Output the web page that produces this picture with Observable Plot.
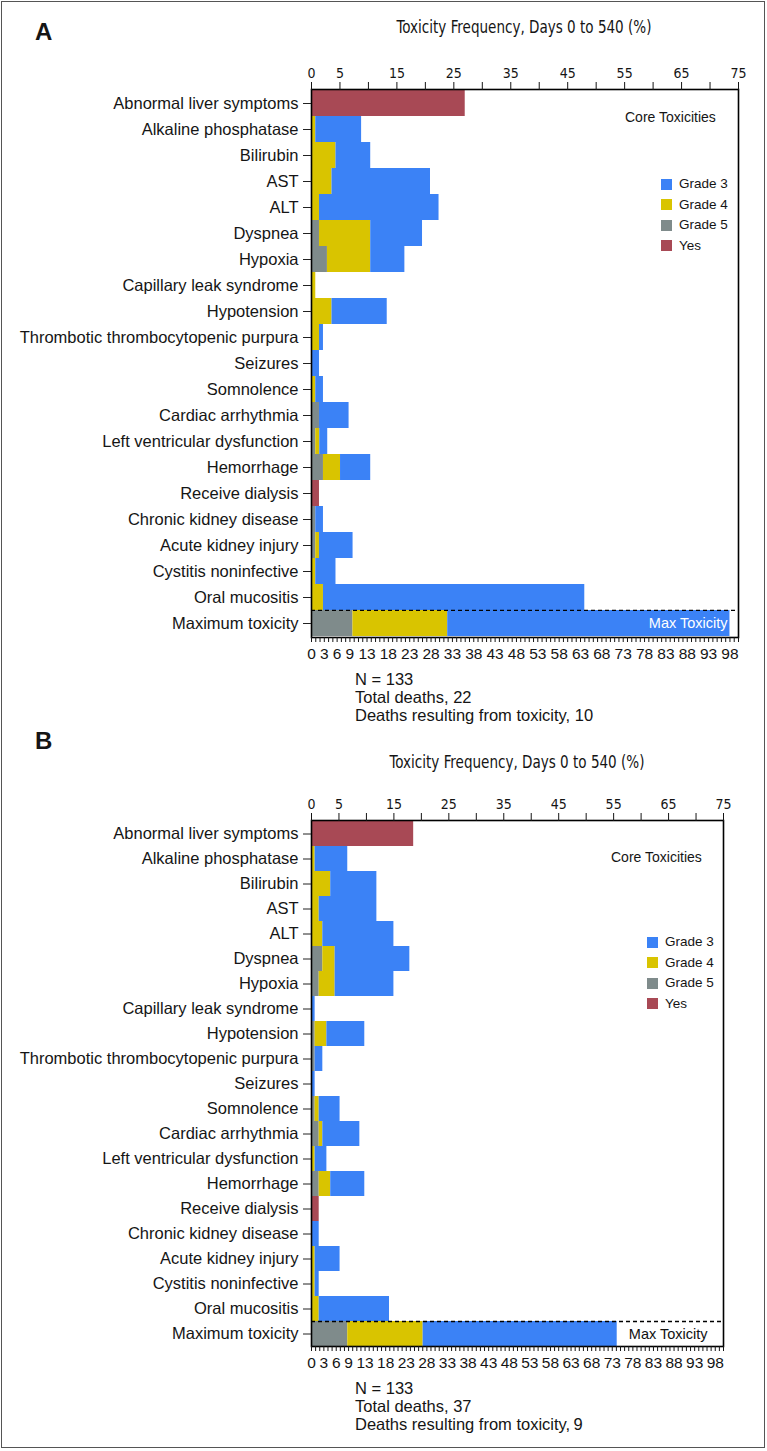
<!DOCTYPE html>
<html><head><meta charset="utf-8">
<script src="https://cdn.jsdelivr.net/npm/d3@7"></script>
<script src="https://cdn.jsdelivr.net/npm/@observablehq/plot@0.6"></script>
<style>
body{margin:0;background:#fff;}
#page{position:relative;width:767px;height:1451px;overflow:hidden;font-family:"Liberation Sans",Arial,sans-serif;color:#151515;background:#fff;}
.abs{position:absolute;white-space:nowrap;line-height:1;}
.svgwrap{position:absolute;left:0;}
#border{position:absolute;left:1px;top:1px;width:762px;height:1445px;border:1.5px solid #555;}
</style></head><body><div id="page"><div id="border"></div></div>
<script>
const categories = ["Abnormal liver symptoms","Alkaline phosphatase","Bilirubin","AST","ALT","Dyspnea","Hypoxia","Capillary leak syndrome","Hypotension","Thrombotic thrombocytopenic purpura","Seizures","Somnolence","Cardiac arrhythmia","Left ventricular dysfunction","Hemorrhage","Receive dialysis","Chronic kidney disease","Acute kidney injury","Cystitis noninfective","Oral mucositis","Maximum toxicity"];
const legendKeys = ["Grade 3","Grade 4","Grade 5","Yes"];
const legendColors = ["#3b82f6","#d9c400","#7f8b8b","#a84955"];
const topTicks = [0,5,10,15,20,25,30,35,40,45,50,55,60,65,70,75];
const topTickLabels = [0,5,15,25,35,45,55,65,75];
const bottomTickLabels = [0,3,6,9,13,18,23,28,33,38,43,48,53,58,63,68,73,78,83,88,93,98];
const topMax = 75, bottomMax = 100; // core rows use top axis, "Maximum toxicity" uses bottom axis
const title = "Toxicity Frequency, Days 0 to 540 (%)";

// Panel A (segment lengths, %; last entry on 0-100 bottom axis)
const grade5A = [0,0,0,0,0,1.4,2.8,0,0,0,0,0,1.4,0.75,2.1,0,0.75,0.75,0,0,9.7];
const grade4A = [0,0.75,4.3,3.6,1.4,9.0,7.6,0.75,3.6,1.4,0,0.75,0,0.7,3.0,0,0,0.65,0.75,2.1,22.2];
const grade3A = [0,8.05,6.1,17.3,21.0,9.1,6.0,0,9.7,0.7,1.4,1.35,5.2,1.4,5.3,0,1.35,5.9,3.55,45.9,66.1];
const yesA    = [27.0,0,0,0,0,0,0,0,0,0,0,0,0,0,0,1.4,0,0,0,0,0];
const notesA = ["N = 133","Total deaths, 22","Deaths resulting from toxicity, 10"];

// Panel B
const grade5B = [0,0,0,0,0,2.06,1.4,0,0.66,0.66,0,0.66,1.4,0,1.4,0,0,0,0,0,8.8];
const grade4B = [0,0.66,3.5,1.4,2.06,2.24,2.9,0,2.14,0,0,0.74,0.66,0.66,2.1,0,0,0.66,0.66,1.4,18.3];
const grade3B = [0,5.94,8.4,10.5,12.94,13.6,10.7,0.66,6.9,1.4,0.66,3.8,6.74,2.14,6.2,0,1.4,4.54,0.74,12.8,47.1];
const yesB    = [18.6,0,0,0,0,0,0,0,0,0,0,0,0,0,0,1.4,0,0,0,0,0];
const notesB = ["N = 133","Total deaths, 37","Deaths resulting from toxicity,\u20099"];

const page = document.getElementById("page");
function addText(txt, x, y, o = {}) {
  const d = document.createElement("div");
  d.className = "abs";
  d.textContent = txt;
  d.style.left = x + "px";
  d.style.top = y + "px";
  d.style.fontSize = (o.size || 15) + "px";
  if (o.weight) d.style.fontWeight = o.weight;
  if (o.family) d.style.fontFamily = o.family;
  if (o.color) d.style.color = o.color;
  const ax = o.anchor === "middle" ? -50 : o.anchor === "end" ? -100 : 0;
  d.style.transform = `translate(${ax}%, -50%)` + (o.scaleX ? ` scaleX(${o.scaleX})` : "");
  page.appendChild(d);
  return d;
}
function addSwatch(x, y, color) {
  const s = document.createElement("div");
  s.style.position = "absolute";
  s.style.left = x + "px"; s.style.top = (y - 5.5) + "px";
  s.style.width = "11px"; s.style.height = "11px";
  s.style.background = color;
  page.appendChild(s);
}
const narrow = '"Liberation Sans Narrow","DejaVu Sans Condensed","Liberation Sans",sans-serif';

function panel(cfg) {
  const rows = [];
  categories.forEach((c, i) => {
    const k = c === "Maximum toxicity" ? topMax / bottomMax : 1;
    [["Grade 5", cfg.g5[i]], ["Grade 4", cfg.g4[i]], ["Grade 3", cfg.g3[i]], ["Yes", cfg.yes[i]]]
      .forEach(([g, v]) => { if (v > 0) rows.push({cat: c, grade: g, value: v * k}); });
  });
  const H = cfg.height, mt = cfg.mt, mb = cfg.mb;
  const bw = (H - mt - mb) / categories.length;
  const svg = Plot.plot({
    width: 767, height: H,
    marginTop: mt, marginBottom: mb, marginLeft: 311, marginRight: cfg.mr,
    style: {fontFamily: '"Liberation Sans", Arial, sans-serif', background: "transparent", color: "#151515", overflow: "visible"},
    x: {domain: [0, topMax]},
    y: {domain: categories, padding: 0},
    color: {domain: legendKeys, range: legendColors},
    marks: [
      Plot.barX(rows, {y: "cat", x: "value", fill: "grade"}),
      Plot.ruleY(["Maximum toxicity"], {dy: -bw / 2, stroke: "#000", strokeWidth: 1.3, strokeDasharray: "4,3"}),
      Plot.frame({stroke: "#000", strokeWidth: 1.6}),
      Plot.axisY({tickSize: 8, tickPadding: 5, fontSize: 16.5, label: null, stroke: "#222"}),
      Plot.axisX({anchor: "top", ticks: topTicks, tickSize: 8, tickPadding: 4, fontSize: 14, fontFamily: narrow, label: null,
        tickFormat: d => topTickLabels.includes(d) ? String(d) : ""}),
      Plot.axisX({anchor: "bottom", ticks: d3.range(0, bottomMax + 1).map(t => t * topMax / bottomMax), tickSize: 5, tickPadding: 5, fontSize: 15.5, label: null,
        tickFormat: d => { const t = Math.round(d * bottomMax / topMax); return bottomTickLabels.includes(t) ? String(t) : ""; }}),
      Plot.text(["Max Toxicity"], {y: () => "Maximum toxicity", frameAnchor: "right", textAnchor: "end", dx: cfg.maxDx, fill: cfg.maxColor, fontSize: 14.5})
    ]
  });
  const wrap = document.createElement("div");
  wrap.className = "svgwrap";
  wrap.style.top = cfg.top + "px";
  wrap.appendChild(svg);
  page.appendChild(wrap);

  const T = cfg.top;
  addText(cfg.letter, 35, T + cfg.letterY, {size: 24, weight: "bold", family: '"Liberation Sans", Arial, sans-serif'});
  addText(title, cfg.titleX, T + cfg.titleY, {size: 17, anchor: "middle", family: narrow, scaleX: 0.885});
  addText("Core Toxicities", cfg.coreX, T + cfg.coreY, {size: 14});
  legendKeys.forEach((k, i) => {
    addSwatch(cfg.legX, T + cfg.legY + i * 20.5, legendColors[i]);
    addText(k, cfg.legX + 18, T + cfg.legY + i * 20.5, {size: 13.5});
  });
  cfg.notes.forEach((n, i) => addText(n, 355, cfg.notesY + i * 18.2, {size: 16.5}));
}

panel({letter: "A", top: 0, height: 700, mt: 89, mb: 63, mr: 29, g5: grade5A, g4: grade4A, g3: grade3A, yes: yesA, letterY: 32,
  maxDx: -11, maxColor: "#fff", titleX: 524, titleY: 27, coreX: 625, coreY: 117, legX: 661, legY: 184.3, notes: notesA, notesY: 678.5});
panel({letter: "B", top: 710, height: 700, mt: 110, mb: 64, mr: 44, g5: grade5B, g4: grade4B, g3: grade3B, yes: yesB, letterY: 31,
  maxDx: -16, maxColor: "#111", titleX: 517, titleY: 52, coreX: 611, coreY: 147, legX: 647, legY: 232, notes: notesB, notesY: 1387.7});
</script></body></html>
